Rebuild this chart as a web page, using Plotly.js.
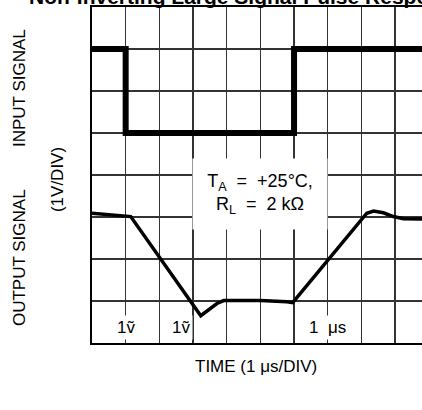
<!DOCTYPE html>
<html>
<head>
<meta charset="utf-8">
<script src="https://cdn.plot.ly/plotly-3.0.1.min.js"></script>
<style>html,body{margin:0;padding:0;background:#fff;}#chart{width:422px;height:410px;}</style>
</head>
<body>
<div id="chart"></div>
<script>
// Time in divisions (1 µs/DIV), amplitude in divisions (1 V/DIV)
var inputTime = [0, 1, 1, 6, 6, 9.8];
var inputLevel = [7, 7, 5, 5, 7, 7];
var outputTime = [0, 1.15, 3.23, 3.71, 3.91, 5.0, 5.79, 5.96, 8.16, 8.36, 8.65, 8.95, 9.25, 9.8];
var outputLevel = [3.09, 3.01, 0.65, 0.94, 1.01, 1.01, 0.98, 0.96, 3.09, 3.14, 3.10, 3.01, 2.96, 2.95];

var titleText = "Non-Inverting Large Signal Pulse Response";
var yLabelInput = "INPUT SIGNAL";
var yLabelOutput = "OUTPUT SIGNAL";
var yLabelScale = "(1V/DIV)";
var xLabel = "TIME (1\u00a0\u03bcs/DIV)";
var conditionText = "T<sub>A</sub>\u00a0\u00a0=\u00a0\u00a0+25\u00b0C,<br>R<sub>L</sub>\u00a0\u00a0=\u00a0\u00a02\u00a0k\u03a9";
var scaleLabels = ["1v\u0303", "1v\u0303", "1\u00a0\u00a0\u03bcs"];
var scaleLabelX = [1, 2.65, 7];

var font = "'Liberation Sans', Arial, sans-serif";

var traces = [
  {x: inputTime, y: inputLevel, mode: "lines", line: {color: "#000", width: 6}, hoverinfo: "skip"},
  {x: outputTime, y: outputLevel, mode: "lines", line: {color: "#000", width: 3.5}, hoverinfo: "skip"}
];

var annotations = [
  {text: titleText, xref: "paper", yref: "paper", x: -0.197, y: 0.991, xanchor: "left", yanchor: "bottom",
   showarrow: false, font: {family: font, size: 21, color: "#000", weight: "bold"}},
  {text: yLabelInput, xref: "paper", yref: "paper", x: -0.218, y: 0.759, xanchor: "center", yanchor: "middle",
   textangle: -90, showarrow: false, font: {family: font, size: 17, color: "#000"}},
  {text: yLabelOutput, xref: "paper", yref: "paper", x: -0.218, y: 0.253, xanchor: "center", yanchor: "middle",
   textangle: -90, showarrow: false, font: {family: font, size: 17, color: "#000"}},
  {text: yLabelScale, xref: "paper", yref: "paper", x: -0.106, y: 0.485, xanchor: "center", yanchor: "middle",
   textangle: -90, showarrow: false, font: {family: font, size: 17, color: "#000"}},
  {text: xLabel, xref: "paper", yref: "paper", x: 0.497, y: -0.07, xanchor: "center", yanchor: "middle",
   showarrow: false, font: {family: font, size: 17, color: "#000"}},
  {text: conditionText, xref: "x", yref: "y", x: 5, y: 3.55, width: 132, height: 68,
   xanchor: "center", yanchor: "middle",
   bgcolor: "#fff", showarrow: false, align: "center", font: {family: font, size: 18, color: "#000"}}
];
for (var i = 0; i < scaleLabels.length; i++) {
  annotations.push({text: scaleLabels[i], xref: "x", yref: "y", x: scaleLabelX[i], y: 0.37,
    xanchor: "center", yanchor: "middle",
    bgcolor: "#fff", borderpad: 2, showarrow: false, font: {family: font, size: 17, color: "#000"}});
}

var layout = {
  width: 422, height: 410,
  margin: {l: 92, r: 0, t: 7, b: 67},
  paper_bgcolor: "#fff", plot_bgcolor: "#fff",
  showlegend: false,
  xaxis: {range: [0, 9.8], dtick: 1, tick0: 0, showgrid: true, gridcolor: "#333", gridwidth: 1.4,
          zeroline: false, showticklabels: false, ticks: "", showline: true, linecolor: "#000",
          linewidth: 2, mirror: true, fixedrange: true},
  yaxis: {range: [0, 8], dtick: 1, tick0: 0, showgrid: true, gridcolor: "#333", gridwidth: 1.4,
          zeroline: false, showticklabels: false, ticks: "", showline: true, linecolor: "#000",
          linewidth: 2, fixedrange: true},
  annotations: annotations
};

Plotly.newPlot("chart", traces, layout, {staticPlot: true, displayModeBar: false});
</script>
</body>
</html>
